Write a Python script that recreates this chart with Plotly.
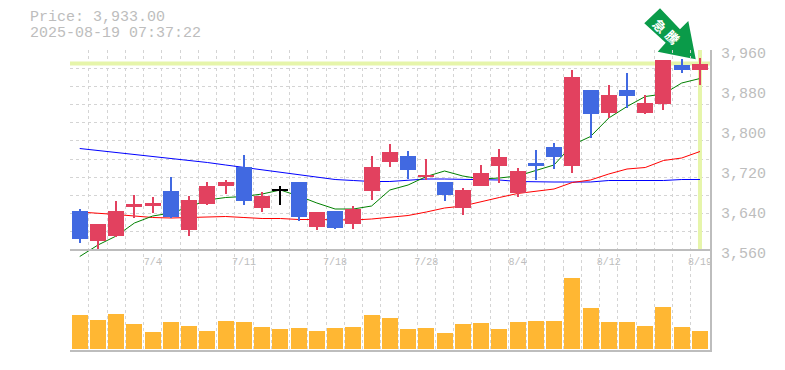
import plotly.graph_objects as go

idx = list(range(35))
tick_idx = [4, 9, 14, 19, 24, 29, 34]
tick_text = ["7/4", "7/11", "7/18", "7/28", "8/4", "8/12", "8/19"]

opens = [3638,3578,3588,3646,3648,3678,3600,3652,3688,3726,3644,3679,3696,3606,3638,3612,3678,3736,3748,3706,3696,3644,3688,3728,3674,3734,3766,3728,3880,3834,3880,3834,3852,3930,3920]
closes = [3582,3612,3638,3652,3654,3626,3660,3688,3696,3658,3668,3679,3626,3636,3604,3642,3726,3756,3720,3710,3670,3680,3714,3746,3718,3728,3746,3906,3832,3870,3868,3854,3940,3920,3933]
highs = [3642,3612,3658,3670,3666,3706,3668,3696,3700,3750,3676,3688,3696,3636,3638,3648,3748,3772,3758,3742,3696,3684,3730,3762,3724,3760,3774,3920,3880,3890,3914,3870,3940,3942,3944]
lows = [3574,3562,3586,3624,3634,3624,3588,3650,3672,3650,3636,3650,3618,3600,3602,3602,3660,3726,3702,3700,3658,3630,3688,3694,3666,3700,3722,3714,3784,3824,3844,3832,3840,3914,3890]
ma_short = [3547,3570,3588,3614,3628,3634,3646,3660,3665,3667,3672,3680,3668,3654,3642,3642,3648,3680,3690,3707,3718,3708,3702,3704,3708,3719,3730,3770,3787,3824,3847,3867,3872,3894,3903]
ma_mid = [3636,3634,3631,3628,3625,3624,3625,3626,3627,3625,3623,3623,3621,3621,3620,3620,3622,3625,3629,3636,3644,3648,3657,3665,3673,3678,3682,3695,3700,3712,3722,3725,3739,3744,3757]
ma_long = [3763,3759,3756,3752,3748,3744,3739,3735,3730,3725,3720,3715,3710,3705,3701,3699,3697,3697,3699,3702,3702,3701,3700,3700,3697,3696,3696,3696,3696,3699,3699,3699,3699,3701,3701]
volumes = [34,29,35,25,17,27,23,18,28,27,22,20,21,18,21,22,34,31,20,21,16,25,26,20,27,28,28,71,41,27,27,23,42,22,18]
price_ticks = [3560, 3640, 3720, 3800, 3880, 3960]
last_price = 3933

RED, BLUE, BLACK = "#E2415F", "#4169E1", "#000000"
GREY, GRID, CROSS = "#BDBDBD", "#D4D4D4", "#E6F5AA"
MONO = "Liberation Mono, monospace"

colors = [RED if c > o else BLUE if c < o else BLACK for o, c in zip(opens, closes)]
body_base = [min(o, c) for o, c in zip(opens, closes)]
body_h = [max(abs(o - c), 2) for o, c in zip(opens, closes)]

XR = [-0.533, 34.55]
YR = [3525, 3960]
VR = [-2, 80.5]
split = 82.5 / 300

fig = go.Figure()
fig.add_trace(go.Scatter(x=XR, y=[last_price, last_price], xaxis="x2", yaxis="y", mode="lines",
                         line=dict(color=CROSS, width=4)))
fig.add_trace(go.Scatter(x=[idx[-1], idx[-1]], y=[price_ticks[0], price_ticks[-1]], xaxis="x2", yaxis="y",
                         mode="lines", line=dict(color=CROSS, width=4)))
for series, col in ((ma_long, "#0000FF"), (ma_mid, "#FF0000"), (ma_short, "#008000")):
    fig.add_trace(go.Scatter(x=idx, y=series, xaxis="x2", yaxis="y", mode="lines",
                             line=dict(color=col, width=1)))
fig.add_trace(go.Bar(x=idx, base=lows, y=[h - l for h, l in zip(highs, lows)], width=0.055,
                     marker=dict(color=colors, line_width=0), xaxis="x3", yaxis="y3"))
fig.add_trace(go.Bar(x=idx, base=body_base, y=body_h, width=0.877,
                     marker=dict(color=colors, line_width=0), xaxis="x3", yaxis="y3"))
fig.add_trace(go.Bar(x=idx, y=volumes, width=0.877, marker=dict(color="#FFB733", line_width=0),
                     xaxis="x", yaxis="y2"))

grid_minor = dict(showgrid=True, gridcolor=GRID, gridwidth=1, griddash="3px,3px", ticklen=0)
vminor = dict(tick0=-0.5, dtick=1, **grid_minor)

fig.update_layout(
    width=785, height=370, margin=dict(l=70, r=75, t=50, b=20),
    paper_bgcolor="white", plot_bgcolor="rgba(0,0,0,0)", showlegend=False, barmode="overlay",
    bargap=0,
    xaxis=dict(domain=[0, 1], range=XR, anchor="y2", showline=True, linecolor=GREY, linewidth=2,
               showticklabels=False, ticks="", showgrid=False, zeroline=False,
               tickvals=tick_idx, minor=vminor),
    xaxis2=dict(domain=[0, 1], range=XR, anchor="free", position=100 / 300, showline=True, linecolor=GREY,
                linewidth=2, tickvals=tick_idx, ticktext=tick_text, ticks="", showgrid=False, zeroline=False,
                tickfont=dict(family=MONO, size=10, color=GREY), tickangle=0, ticklabelstandoff=2, minor=vminor),
    xaxis3=dict(range=XR, overlaying="x2", visible=False, anchor="y3"),
    yaxis=dict(domain=[split, 1], range=YR, anchor="x2", side="right", showline=True, linecolor=GREY,
               linewidth=2, tickvals=price_ticks, tickformat=",d", ticks="", showgrid=False, zeroline=False,
               tickfont=dict(family=MONO, size=15, color=GREY), ticklabelstandoff=6, ticklabelshift=3,
               minor=dict(tick0=price_ticks[0], dtick=400 / 11, **grid_minor)),
    yaxis2=dict(domain=[0, split], range=VR, anchor="x", side="right", showline=True, linecolor=GREY,
                linewidth=2, showticklabels=False, ticks="", showgrid=False, zeroline=False),
    yaxis3=dict(domain=[split, 1], range=YR, overlaying="y", visible=False, anchor="x3"),
)

def px(x, y):
    return (x - 70) / 640, 1 - (y - 50) / 300

arrow = [(660, 8.3), (644.3, 23.3), (665.7, 42.7), (657.7, 51.7), (695.7, 59.3), (688.3, 21), (680, 29.3)]
path = "M " + " L ".join("{:.4f},{:.4f}".format(*px(*p)) for p in arrow) + " Z"
fig.add_shape(type="path", path=path, xref="paper", yref="paper", fillcolor="#0A9B49", line_width=0, layer="below")

for text, x, y in (("<b>急</b>", 660, 25), ("<b>騰</b>", 672, 37)):
    ax, ay = px(x, y)
    fig.add_annotation(text=text, x=ax, y=ay, xref="paper", yref="paper", xanchor="center", yanchor="middle",
                       showarrow=False, textangle=45,
                       font=dict(family="Noto Sans CJK JP", size=13, color="white"))

for text, y in (("Price: 3,933.00", 18), ("2025-08-19 07:37:22", 33)):
    ax, ay = px(28, y)
    fig.add_annotation(text=text, x=ax, y=ay, xref="paper", yref="paper", xanchor="left", yanchor="middle",
                       showarrow=False, font=dict(family=MONO, size=15, color=GREY))

fig.write_html("out.html", post_script="document.body.style.margin='0';", config=dict(displayModeBar=False))
